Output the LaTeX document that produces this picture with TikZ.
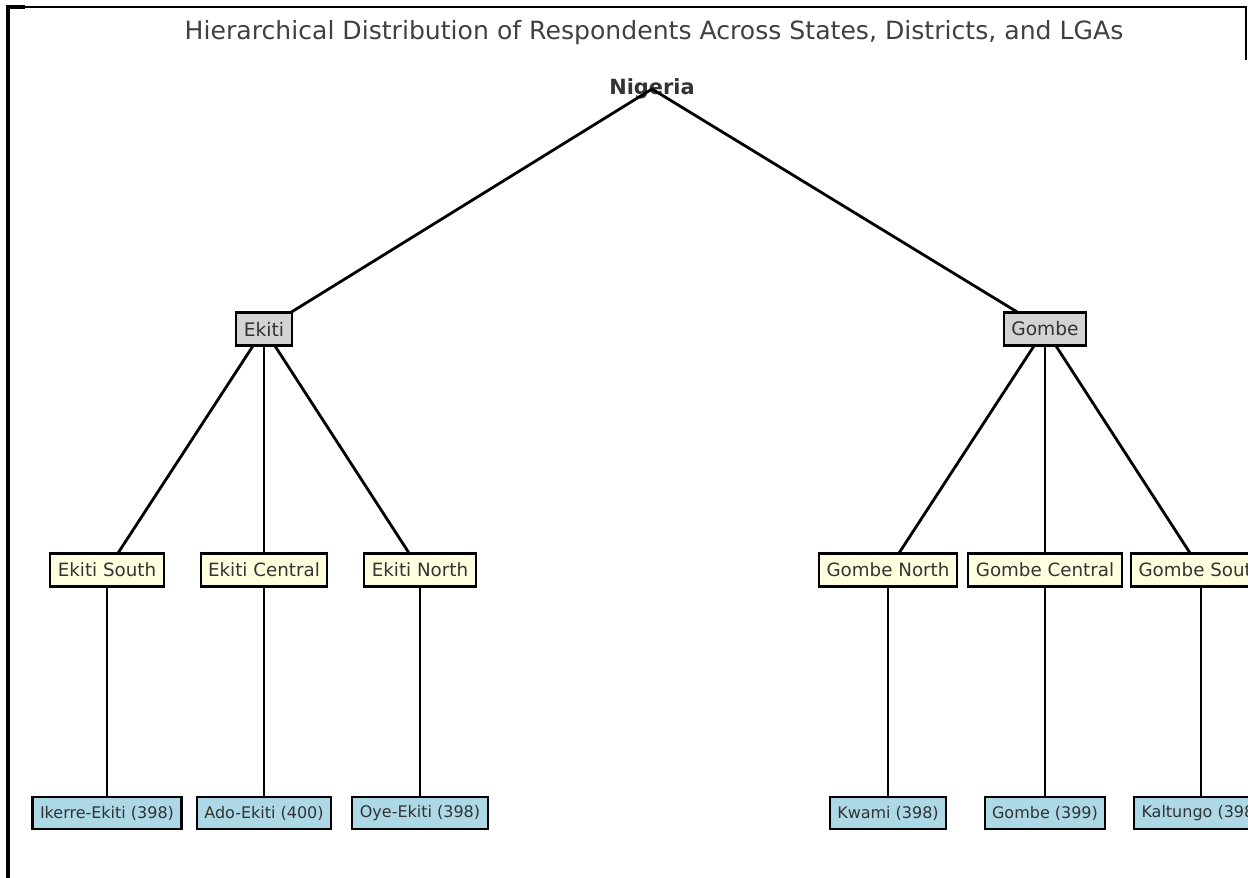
\documentclass[tikz,border=0pt]{standalone}
\usepackage{fontspec}
\setmainfont{DejaVu Sans}
\definecolor{txtgray}{HTML}{333333}
\definecolor{titlegray}{HTML}{404040}
\definecolor{stategray}{HTML}{D3D3D3}
\definecolor{distyellow}{HTML}{FFFFE0}
\definecolor{lgablue}{HTML}{ADD8E6}
\pgfdeclarelayer{background}
\pgfsetlayers{background,main}
\tikzset{
  edge/.style={line width=1.6pt},
  frameline/.style={line width=2pt},
  labelbox/.style={draw, line width=1.2pt, text=txtgray, inner xsep=0.15cm, inner ysep=0pt},
  statebox/.style={labelbox, fill=stategray, minimum height=0.66cm, font=\fontsize{10.6}{12}\selectfont},
  distbox/.style={labelbox, fill=distyellow, minimum height=0.66cm, font=\fontsize{10.4}{12}\selectfont},
  lgabox/.style={labelbox, fill=lgablue, minimum height=0.64cm, font=\fontsize{9.1}{11}\selectfont},
}
\begin{document}
\begin{tikzpicture}[x=0.02cm,y=-0.02cm]
    \useasboundingbox (0,0) rectangle (1248,878);
    \clip (0,0) rectangle (1248,878);
    %% Frame
    \draw[frameline] (25,7) -- (8,7) -- (8,878);
    \draw[line width=1.2pt] (8,7) -- (1246,7) -- (1246,60);
    %% Title
    \node[anchor=base, text=titlegray, font=\fontsize{14.3}{16}\selectfont] (title) at (654,40)
        {Hierarchical Distribution of Respondents Across States, Districts, and LGAs};
    %% States
    \node[statebox] (ekiti) at (264,329) {Ekiti};
    \node[statebox] (gombe) at (1045,329) {Gombe};
    %% Districts
    \node[distbox] (ekitiS) at (107,570) {Ekiti South};
    \node[distbox] (ekitiC) at (264,570) {Ekiti Central};
    \node[distbox] (ekitiN) at (420,570) {Ekiti North};
    \node[distbox] (gombeN) at (888,570) {Gombe North};
    \node[distbox] (gombeC) at (1045,570) {Gombe Central};
    \node[distbox] (gombeS) at (1201,570) {Gombe South};
    %% LGAs
    \node[lgabox] (ikerre) at (107,813) {Ikerre-Ekiti (398)};
    \node[lgabox] (ado) at (264,813) {Ado-Ekiti (400)};
    \node[lgabox] (oye) at (420,813) {Oye-Ekiti (398)};
    \node[lgabox] (kwami) at (888,813) {Kwami (398)};
    \node[lgabox] (gombeL) at (1045,813) {Gombe (399)};
    \node[lgabox] (kaltungo) at (1201,813) {Kaltungo (398)};
    %% Edges (behind the boxes)
    \begin{pgfonlayer}{background}
        \node[text=txtgray, font=\fontsize{11.9}{14}\selectfont\bfseries] (nigeria) at (652,89) {Nigeria};
        \draw[edge] (nigeria.center) -- (ekiti.center);
        \draw[edge] (nigeria.center) -- (gombe.center);
        \foreach \s/\d in {ekiti/ekitiS,ekiti/ekitiC,ekiti/ekitiN,gombe/gombeN,gombe/gombeC,gombe/gombeS}
            \draw[edge] (\s.center) -- (\d.center);
        \foreach \d/\l in {ekitiS/ikerre,ekitiC/ado,ekitiN/oye,gombeN/kwami,gombeC/gombeL,gombeS/kaltungo}
            \draw[edge] (\d.center) -- (\l.center);
    \end{pgfonlayer}
\end{tikzpicture}
\end{document}
